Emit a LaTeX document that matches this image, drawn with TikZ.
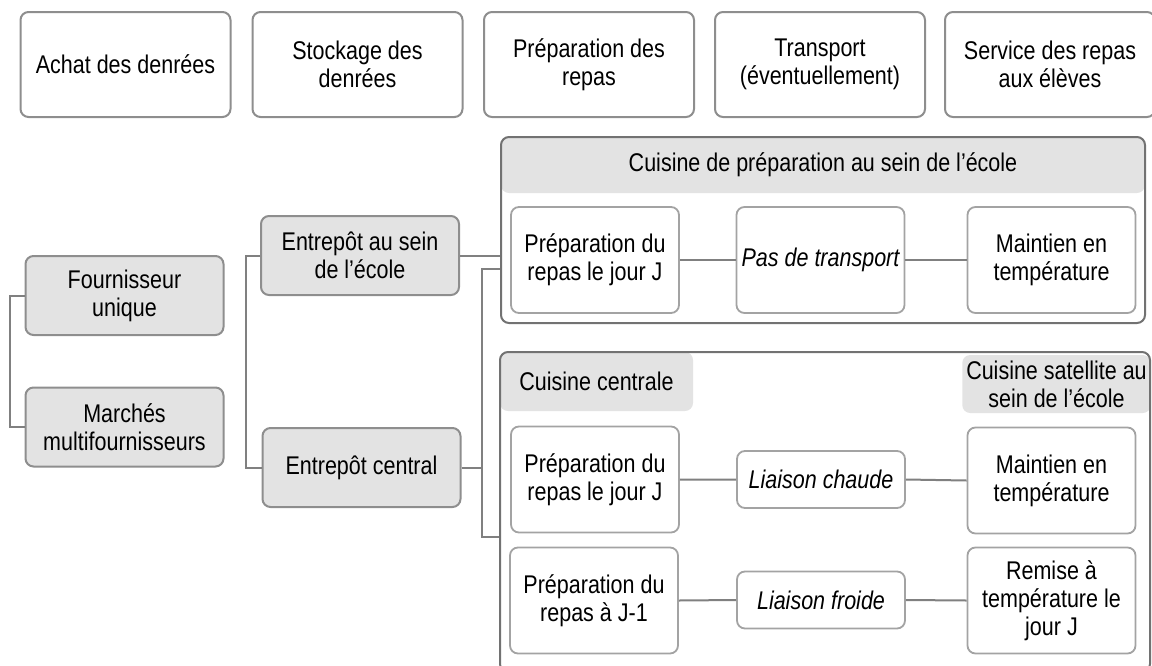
\documentclass[tikz,border=0pt]{standalone}
\usepackage{fontspec}
\setmainfont{Liberation Sans}[FakeStretch=0.84]
\usepackage{xcolor}
\usetikzlibrary{positioning}

\definecolor{boxline}{HTML}{A3A3A3}
\definecolor{grayline}{HTML}{8E8E8E}
\definecolor{grayfill}{HTML}{E3E3E3}
\definecolor{groupline}{HTML}{727272}
\definecolor{linkline}{HTML}{808080}

\tikzset{
  every node/.style={font=\fontsize{12.8}{14}\selectfont, align=center, inner sep=2pt},
  stepbox/.style={draw=grayline, line width=1pt, fill=white, rounded corners=4pt,
    minimum width=105pt, minimum height=52.5pt},
  graybox/.style={draw=grayline, line width=1pt, fill=grayfill, rounded corners=4pt,
    minimum width=99pt, minimum height=39.5pt},
  whitebox/.style={draw=boxline, line width=0.9pt, fill=white, rounded corners=4pt,
    minimum width=84pt, minimum height=53pt},
  linkbox/.style={whitebox, minimum height=28.5pt, font=\fontsize{12.8}{14}\selectfont\itshape},
  groupbox/.style={draw=groupline, line width=1pt, rounded corners=4pt},
  hdr/.style={fill=grayfill, rounded corners=4pt},
  link/.style={draw=linkline, line width=1pt}
}

\begin{document}
\begin{tikzpicture}[x=0.5pt, y=-0.5pt]
  \useasboundingbox (0,0) rectangle (1152,665);

  % stages
  \node[stepbox] (achat) at (125.5,64.5) {Achat des denrées};
  \node[stepbox] (stock) at (357.5,64.5) {Stockage des\\denrées};
  \node[stepbox] (prep) at (589,64.5) {Préparation des\\repas};
  \node[stepbox] (transp) at (820,64.5) {Transport\\(éventuellement)};
  \node[stepbox] (service) at (1050,64.5) {Service des repas\\aux élèves};

  % purchase and storage
  \node[graybox] (four) at (124.5,295.5) {Fournisseur\\unique};
  \node[graybox] (marc) at (124.5,427) {Marchés\\multifournisseurs};
  \node[graybox] (ent1) at (360,255.5) {Entrepôt au sein\\de l'école};
  \node[graybox] (ent2) at (361.5,467.5) {Entrepôt central};

  % kitchen on site
  \node[hdr, minimum width=322pt, minimum height=28pt] (h1) at (823,165) {Cuisine de préparation au sein de l’école};
  \node[groupbox, minimum width=322pt, minimum height=93pt] (g1) at (823,230) {};
  \node[whitebox] (p1) at (595,260) {Préparation du\\repas le jour J};
  \node[whitebox, font=\fontsize{12.8}{14}\selectfont\itshape] (p2) at (820.5,260) {Pas de transport};
  \node[whitebox] (p3) at (1051.5,260) {Maintien en\\température};

  % central kitchen
  \node[hdr, minimum width=96.5pt, minimum height=29.5pt] (h2) at (596.5,381.5) {Cuisine centrale};
  \node[hdr, minimum width=93.5pt, minimum height=29pt] (h3) at (1056.5,384) {Cuisine satellite au\\sein de l’école};
  \node[groupbox, minimum width=325pt, minimum height=160pt] (g2) at (825,512) {};
  \node[whitebox] (q1) at (595,479.5) {Préparation du\\repas le jour J};
  \node[linkbox] (q2) at (821,479.5) {Liaison chaude};
  \node[whitebox] (q3) at (1051.5,480.5) {Maintien en\\température};
  \node[whitebox] (r1) at (594,600.5) {Préparation du\\repas à J-1};
  \node[linkbox] (r2) at (821,600) {Liaison froide};
  \node[whitebox] (r3) at (1051.5,600.5) {Remise à\\température le\\jour J};

  % connectors
  \draw[link] (four.west) -- ++(-15,0) |- (marc.west);
  \draw[link] (ent1.west) -- ++(-14,0) |- (ent2.west);
  \draw[link] (ent1.east) -- (ent1.east -| g1.west);
  \coordinate (j1) at (482,269);
  \coordinate (j2) at (482,537);
  \draw[link] (j1 -| g1.west) -- (j1) -- (j2) -- (j2 -| g2.west);
  \draw[link] (ent2.east) -- (ent2.east -| j1);
  \draw[link] (p1.east) -- (p2.west) (p2.east) -- (p3.west);
  \draw[link] (q1.east) -- (q2.west) (q2.east) -- (q3.west);
  \draw[link] (r1.east) -- (r2.west) (r2.east) -- (r3.west);
\end{tikzpicture}
\end{document}
